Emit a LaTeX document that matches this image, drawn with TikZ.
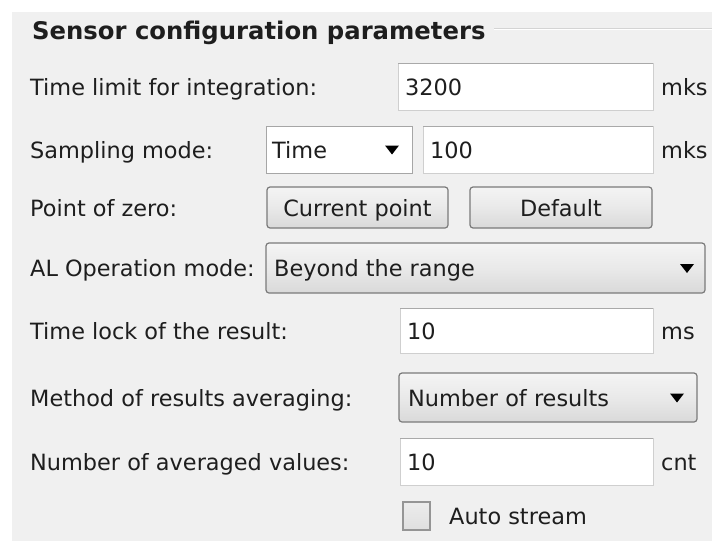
\documentclass[tikz,border=0pt]{standalone}
\usepackage{fontspec}
\setmainfont{DejaVu Sans}
\usetikzlibrary{calc}
\definecolor{panel}{HTML}{F0F0F0}
\definecolor{txt}{HTML}{1E1E1E}
\definecolor{tbord}{HTML}{CFCFCF}
\definecolor{ttop}{HTML}{A9A9A9}
\definecolor{bbord}{HTML}{7A7A7A}
\definecolor{btop}{HTML}{F4F4F4}
\definecolor{bbot}{HTML}{D9D9D9}
\definecolor{tline}{HTML}{D4D4D4}
\begin{document}
\begin{tikzpicture}[x=1pt,y=-1pt,
  lbl/.style={anchor=base west, inner sep=0pt, text=txt, font=\fontsize{22.4pt}{26pt}\selectfont},
  ttl/.style={anchor=base west, inner sep=0pt, text=txt, font=\fontsize{24.3pt}{28pt}\selectfont\bfseries},
  tbox/.style={anchor=north west, draw=tbord, fill=white, line width=1pt, inner sep=0pt, outer sep=0pt},
  wcombo/.style={anchor=north west, draw=tbord!80!black, fill=white, line width=1pt, inner sep=0pt, outer sep=0pt},
  gcombo/.style={anchor=north west, draw=bbord, line width=1.2pt, rounded corners=3pt, top color=btop, bottom color=bbot, middle color=btop!60!bbot, inner sep=0pt, outer sep=0pt},
  btn/.style={gcombo},
  chk/.style={anchor=north west, draw=bbord!80, line width=1.2pt, top color=white!85!gray, bottom color=white!75!gray, inner sep=0pt, outer sep=0pt, minimum width=27pt, minimum height=28pt},
  tri/.style={fill=black}
]
% background and panel
\fill[white] (0,0) rectangle (712,541);
\fill[panel] (12,12) rectangle (712,541);
\useasboundingbox (0,0) rectangle (712,541);

% title
\node[ttl] (title) at (32,39) {Sensor configuration parameters};
\coordinate (tlA) at (494,28);
\coordinate (tlB) at (712,28);
\draw[tline, line width=1pt] (tlA) -- (tlB);
\draw[white, line width=1pt] ($(tlA)+(0,1.5)$) -- ($(tlB)+(0,1.5)$);

% row 1
\node[lbl] (l1) at (30,95) {Time limit for integration:};
\node[tbox, minimum width=255pt, minimum height=47pt] (t1) at (398,63) {};
\draw[ttop, line width=1pt] (t1.north west) -- (t1.north east);
\node[lbl] (t1v) at ($(t1.west)+(7,8.5)$) {3200};
\node[lbl] (u1) at (661,95) {mks};

% row 2
\node[lbl] (l2) at (30,158) {Sampling mode:};
\node[wcombo, minimum width=146pt, minimum height=47pt] (c2) at (266,126) {};
\node[lbl] (c2v) at ($(c2.west)+(6,8.5)$) {Time};
\fill[tri] ($(c2.east)+(-27,-4)$) -- ++(14,0) -- ++(-7,9) -- cycle;
\node[tbox, minimum width=230pt, minimum height=47pt] (t2) at (423,126) {};
\draw[ttop, line width=1pt] (t2.north west) -- (t2.north east);
\node[lbl] (t2v) at ($(t2.west)+(7,8.5)$) {100};
\node[lbl] (u2) at (661,158) {mks};

% row 3
\node[lbl] (l3) at (30,216) {Point of zero:};
\node[btn, minimum width=181pt, minimum height=41pt] (b1) at (267,187) {};
\node[lbl, anchor=base] (b1v) at ($(b1.center)+(0,8.5)$) {Current point};
\node[btn, minimum width=182pt, minimum height=41pt] (b2) at (470,187) {};
\node[lbl, anchor=base] (b2v) at ($(b2.center)+(0,8.5)$) {Default};

% row 4
\node[lbl] (l4) at (30,276.5) {AL Operation mode:};
\node[gcombo, minimum width=439pt, minimum height=50pt] (c4) at (266,243) {};
\node[lbl] (c4v) at ($(c4.west)+(8,8.5)$) {Beyond the range};
\fill[tri] ($(c4.east)+(-25,-4)$) -- ++(14,0) -- ++(-7,9) -- cycle;

% row 5
\node[lbl] (l5) at (30,339) {Time lock of the result:};
\node[tbox, minimum width=253pt, minimum height=45pt] (t5) at (400,308) {};
\draw[ttop, line width=1pt] (t5.north west) -- (t5.north east);
\node[lbl] (t5v) at ($(t5.west)+(7,8.5)$) {10};
\node[lbl] (u5) at (661,339) {ms};

% row 6
\node[lbl] (l6) at (30,406) {Method of results averaging:};
\node[gcombo, minimum width=298pt, minimum height=49pt] (c6) at (399,373) {};
\node[lbl] (c6v) at ($(c6.west)+(9,8.5)$) {Number of results};
\fill[tri] ($(c6.east)+(-27,-4)$) -- ++(14,0) -- ++(-7,9) -- cycle;

% row 7
\node[lbl] (l7) at (30,470) {Number of averaged values:};
\node[tbox, minimum width=253pt, minimum height=47pt] (t7) at (400,438) {};
\draw[ttop, line width=1pt] (t7.north west) -- (t7.north east);
\node[lbl] (t7v) at ($(t7.west)+(7,8.5)$) {10};
\node[lbl] (u7) at (661,470) {cnt};

% row 8
\node[chk] (cb) at (403,502) {};
\node[lbl] (cbl) at (449,524.5) {Auto stream};
\end{tikzpicture}
\end{document}
